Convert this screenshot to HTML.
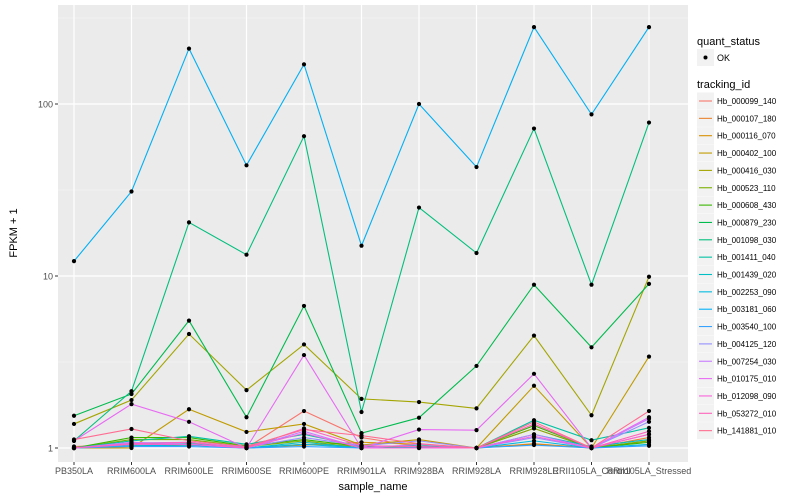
<!DOCTYPE html>
<html><head><meta charset="utf-8"><style>
body{margin:0;background:#fff;}
svg{display:block;font-family:"Liberation Sans",sans-serif;}
</style></head><body>
<svg id="chart" width="800" height="500"></svg>
<script>
const categories=["PB350LA","RRIM600LA","RRIM600LE","RRIM600SE","RRIM600PE","RRIM901LA","RRIM928BA","RRIM928LA","RRIM928LE","RRII105LA_Control","RRII105LA_Stressed"];
const seriesNames=["Hb_000099_140","Hb_000107_180","Hb_000116_070","Hb_000402_100","Hb_000416_030","Hb_000523_110","Hb_000608_430","Hb_000879_230","Hb_001098_030","Hb_001411_040","Hb_001439_020","Hb_002253_090","Hb_003181_060","Hb_003540_100","Hb_004125_120","Hb_007254_030","Hb_010175_010","Hb_012098_090","Hb_053272_010","Hb_141881_010"];
const seriesColors=["#F8766D","#EA8331","#D89000","#C09B00","#A3A500","#7CAE00","#39B600","#00BB4E","#00BF7D","#00C1A3","#00BFC4","#00BAE0","#00B0F6","#35A2FF","#9590FF","#C77CFF","#E76BF3","#FA62DB","#FF62BC","#FF6C91"];
const s0=[1.02,1.05,1.08,1.0,1.64,1.15,1.02,1.0,1.3,1.0,1.2];
const s1=[1,1.03,1.06,1.0,1.05,1.03,1.02,1.0,1.06,1.0,1.15];
const s2=[1,1.02,1.04,1.0,1.04,1.08,1.05,1.0,1.05,1.0,1.1];
const s3=[1.0,1.0,1.68,1.24,1.38,1.04,1.12,1.0,2.3,1.0,3.4];
const s4=[1.38,1.9,4.6,2.17,4.0,1.93,1.85,1.7,4.5,1.55,9.9];
const s5=[1,1.12,1.12,1.02,1.1,1.0,1.02,1.0,1.3,1.0,1.1];
const s6=[1,1.15,1.15,1.03,1.12,1.02,1.01,1.0,1.35,1.0,1.08];
const s7=[1.54,2.06,5.5,1.51,6.7,1.22,1.5,3.0,8.9,3.85,9.0];
const s8=[1.1,2.14,20.5,13.3,65,1.62,25,13.6,72,8.9,78];
const s9=[1,1.1,1.17,1.05,1.2,1.02,1.03,1.0,1.45,1.11,1.31];
const s10=[1,1.05,1.06,1.0,1.08,1.0,1.01,1.0,1.2,1.02,1.12];
const s11=[1,1.03,1.04,1.0,1.05,1.0,1.0,1.0,1.1,1.0,1.05];
const s12=[12.2,31,210,44,170,15,100,43,280,87,280];
const s13=[1,1.02,1.02,1.0,1.02,1.0,1.0,1.0,1.04,1.0,1.03];
const s14=[1,1.07,1.08,1.01,1.15,1.03,1.1,1.0,1.15,1.0,1.42];
const s15=[1,1.08,1.05,1.0,1.25,1.0,1.05,1.0,1.2,1.0,1.48];
const s16=[1.1,1.8,1.42,1.0,3.47,1.0,1.28,1.27,2.7,1.0,1.51];
const s17=[1,1.05,1.05,1.0,1.22,1.0,1.0,1.0,1.17,1.0,1.2];
const s18=[1,1.06,1.08,1.0,1.3,1.03,1.02,1.0,1.38,1.0,1.25];
const s19=[1.12,1.29,1.1,1.02,1.28,1.18,1.06,1.0,1.42,1.0,1.64];
const seriesValues=[s0,s1,s2,s3,s4,s5,s6,s7,s8,s9,s10,s11,s12,s13,s14,s15,s16,s17,s18,s19];
const yTicks=[1,10,100];
const yTickLabels=["1","10","100"];

const NS="http://www.w3.org/2000/svg";
const svg=document.getElementById('chart');
const P={l:58,r:688,t:5,b:462};
const x0=74,dx=57.5;
function xs(i){return x0+i*dx;}
function ys(v){return 448-Math.log10(v)*172;}
function mk(tag,attrs,parent){const e=document.createElementNS(NS,tag);for(const k in attrs)e.setAttribute(k,attrs[k]);(parent||svg).appendChild(e);return e;}

const panel=mk('rect',{x:P.l,y:P.t,width:P.r-P.l,height:P.b-P.t,fill:'#EBEBEB'});


// minor grid
for(let i=0;i<yTicks.length;i++){
  const m=mk('line',{x1:P.l,x2:P.r,y1:ys(yTicks[i]*Math.sqrt(10)),y2:ys(yTicks[i]*Math.sqrt(10)),stroke:'#F5F5F5','stroke-width':0.6});
  
  
}
yTicks.forEach((t,i)=>{
  const g=mk('line',{x1:P.l,x2:P.r,y1:ys(t),y2:ys(t),stroke:'#fff','stroke-width':1.2});
  
  
  const tk=mk('line',{x1:P.l-3,x2:P.l,y1:ys(t),y2:ys(t),stroke:'#333'});
  
  
  const tx=mk('text',{x:P.l-5,y:ys(t)+3.5,'text-anchor':'end','font-size':9,fill:'#4D4D4D'});
  tx.textContent=yTickLabels[i];
  
  
});
categories.forEach((c,i)=>{
  const g=mk('line',{x1:xs(i),x2:xs(i),y1:P.t,y2:P.b,stroke:'#fff','stroke-width':1.2});
  
  
  const tk=mk('line',{x1:xs(i),x2:xs(i),y1:P.b,y2:P.b+3,stroke:'#333'});
  
  
  const tx=mk('text',{x:xs(i),y:P.b+12,'text-anchor':'middle','font-size':9,fill:'#4D4D4D'});
  tx.textContent=c;
  
  
});
seriesValues.forEach((vals,si)=>{
  const pts=vals.map((v,i)=>xs(i)+','+ys(v)).join(' ');
  const pl=mk('polyline',{points:pts,fill:'none',stroke:seriesColors[si],'stroke-width':1.1});
  
  
});
seriesValues.forEach((vals,si)=>{
  vals.forEach((v,i)=>{
    const c=mk('circle',{cx:xs(i),cy:ys(v),r:2.1,fill:'#000'});
    
    
  });
});
const xt=mk('text',{x:373,y:490,'text-anchor':'middle','font-size':11,fill:'#000'});
xt.textContent='sample_name';


const yt=mk('text',{x:17,y:233,'text-anchor':'middle','font-size':11,fill:'#000',transform:'rotate(-90 17 233)'});
yt.textContent='FPKM + 1';



// legend
const l1=mk('text',{x:697,y:45,'font-size':11,fill:'#000'});
l1.textContent='quant_status';


const kb=mk('rect',{x:697,y:49,width:17,height:17,fill:'#F2F2F2'});


const kd=mk('circle',{cx:705.5,cy:57.5,r:2,fill:'#000'});


const ok=mk('text',{x:717,y:61,'font-size':9,fill:'#000'});
ok.textContent='OK';


const l2=mk('text',{x:697,y:88,'font-size':11,fill:'#000'});
l2.textContent='tracking_id';


seriesNames.forEach((n,i)=>{
  const cy=101+i*17.35;
  const b=mk('rect',{x:697,y:cy-8.5,width:17,height:17,fill:'#F2F2F2'});
  
  
  const ln=mk('line',{x1:699,x2:712,y1:cy,y2:cy,stroke:seriesColors[i],'stroke-width':1.1});
  
  
  const t=mk('text',{x:717,y:cy+3,'font-size':8,fill:'#000'});
  t.textContent=n;
  
  
});
</script>
</body></html>
